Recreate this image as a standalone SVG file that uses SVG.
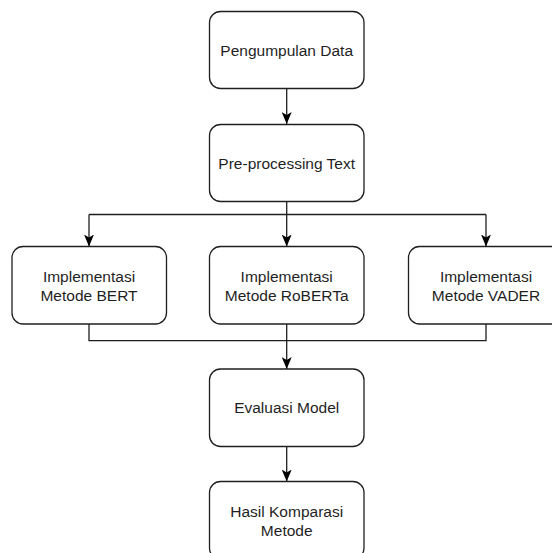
<svg xmlns="http://www.w3.org/2000/svg" width="552" height="553" viewBox="0 0 552 553">
<style>
.box{fill:#fff;stroke:#1f1f1f;stroke-width:1.3}
.t{font-family:"Liberation Sans",Arial,sans-serif;font-size:15.5px;fill:#1f1f1f;text-anchor:middle}
.c{fill:none;stroke:#1f1f1f;stroke-width:1.3}
</style>
<defs>
<marker id="ah" viewBox="0 0 12 10" refX="12" refY="5" markerWidth="12" markerHeight="10" markerUnits="userSpaceOnUse" orient="auto">
<path d="M0,0 L12,5 L0,10 L3,5 Z" fill="#000"/>
</marker>
</defs>
<rect width="552" height="553" fill="#fff"/>
<g id="connectors">
<path class="c" d="M286.7,88.5 V124" marker-end="url(#ah)"/>
<path class="c" d="M286.7,201.5 V246.5" marker-end="url(#ah)"/>
<path class="c" d="M89,214.5 H486"/>
<path class="c" d="M89,214.5 V246.5" marker-end="url(#ah)"/>
<path class="c" d="M486,214.5 V246.5" marker-end="url(#ah)"/>
<path class="c" d="M89,324 V340.7 H486 V324"/>
<path class="c" d="M286.7,324 V369" marker-end="url(#ah)"/>
<path class="c" d="M286.7,446.5 V481.5" marker-end="url(#ah)"/>
</g>
<g id="n1"><rect class="box" x="209.5" y="11.5" width="154.5" height="77" rx="11"/><text class="t" x="286.7" y="55.5">Pengumpulan Data</text></g>
<g id="n2"><rect class="box" x="209.5" y="124.5" width="154.5" height="77" rx="11"/><text class="t" x="286.7" y="168.5">Pre-processing Text</text></g>
<g id="n3"><rect class="box" x="12" y="246.5" width="154.5" height="77.5" rx="11"/><text class="t" x="89" y="281.5">Implementasi</text><text class="t" x="89" y="300.5">Metode BERT</text></g>
<g id="n4"><rect class="box" x="209.5" y="246.5" width="154.5" height="77.5" rx="11"/><text class="t" x="286.7" y="281.5">Implementasi</text><text class="t" x="286.7" y="300.5">Metode RoBERTa</text></g>
<g id="n5"><rect class="box" x="408.5" y="246.5" width="154.5" height="77.5" rx="11"/><text class="t" x="486" y="281.5">Implementasi</text><text class="t" x="486" y="300.5">Metode VADER</text></g>
<g id="n6"><rect class="box" x="209.5" y="369" width="154.5" height="77.5" rx="11"/><text class="t" x="286.7" y="413">Evaluasi Model</text></g>
<g id="n7"><rect class="box" x="209.5" y="481.5" width="154.5" height="77.5" rx="11"/><text class="t" x="286.7" y="517">Hasil Komparasi</text><text class="t" x="286.7" y="536">Metode</text></g>
</svg>
